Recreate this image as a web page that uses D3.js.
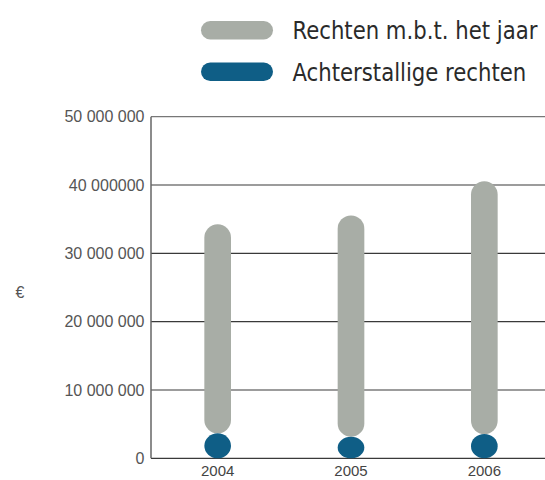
<!DOCTYPE html>
<html><head><meta charset="utf-8">
<script src="https://cdn.jsdelivr.net/npm/d3@7"></script>
<style>body{margin:0;background:#fff}svg{display:block}</style>
</head><body>
<svg id="c" width="545" height="480"></svg>
<script>
const years = ["2004", "2005", "2006"];
const rechtenJaar = [30.6e6, 32.4e6, 37.0e6];
const achterstallig = [3.65e6, 3.15e6, 3.55e6];
const tickValues = [0, 10e6, 20e6, 30e6, 40e6, 50e6];
const tickLabels = ["0", "10 000 000", "20 000 000", "30 000 000", "40 000000", "50 000 000"];
const seriesNames = ["Rechten m.b.t. het jaar", "Achterstallige rechten"];
const colors = ["#a8ada6", "#0f5e86"];

(function(){
const svg = d3.select("#c");
const pLeft = 151, pRight = 545, pTop = 116.7, pBottom = 458.3;
const y = d3.scaleLinear().domain([0, 50e6]).range([pBottom, pTop]);
const x = d3.scaleBand().domain(years).range([151, 551]).paddingInner(0.8).paddingOuter(0.4);

svg.append("g").selectAll("line").data(tickValues).join("line")
  .attr("x1", pLeft).attr("x2", pRight)
  .attr("y1", d => y(d)).attr("y2", d => y(d))
  .attr("stroke", (d,i) => i === tickValues.length-1 ? "#777" : "#3a3a3a")
  .attr("stroke-width", 1.2);
svg.append("line").attr("x1", pLeft).attr("x2", pLeft).attr("y1", y(50e6)).attr("y2", y(0))
  .attr("stroke", "#666").attr("stroke-width", 1.5);

const font = "Liberation Sans, Arial, Helvetica, sans-serif";
svg.append("g").selectAll("text").data(tickValues).join("text")
  .attr("x", 144.5).attr("y", d => y(d)).attr("dy", "0.36em")
  .attr("text-anchor", "end").attr("font-family", font)
  .attr("font-size", 16).attr("fill", "#555")
  .text((d,i) => tickLabels[i]);

svg.append("text").attr("x", 20).attr("y", 292).attr("dy", "0.36em").attr("text-anchor", "middle")
  .attr("font-family", font).attr("font-size", 16).attr("fill", "#555").text("€");

const bw = x.bandwidth();
const g = svg.append("g");
years.forEach((yr, i) => {
  const b0 = achterstallig[i];
  const t = b0 + rechtenJaar[i];
  g.append("rect").attr("x", x(yr)).attr("width", bw)
    .attr("y", y(t)).attr("height", y(b0) - y(t))
    .attr("rx", bw/2).attr("ry", bw/2).attr("fill", colors[0]);
  g.append("rect").attr("x", x(yr)).attr("width", bw)
    .attr("y", y(b0)).attr("height", y(0) - y(b0))
    .attr("rx", bw/2).attr("ry", (y(0) - y(b0))/2).attr("fill", colors[1]);
});

svg.append("g").selectAll("text").data(years).join("text")
  .attr("x", d => x(d) + bw/2).attr("y", 476)
  .attr("text-anchor", "middle").attr("font-family", font)
  .attr("font-size", 15).attr("fill", "#444").text(d => d);

const legendWidths = [245, 234];
const leg = svg.append("g");
seriesNames.forEach((n, i) => {
  const ly = 21 + i * 41.5;
  leg.append("rect").attr("x", 201).attr("y", ly).attr("width", 72).attr("height", 18.5)
    .attr("rx", 9.25).attr("fill", colors[i]);
  const t = leg.append("text").attr("x", 0).attr("y", 0)
    .attr("font-family", "DejaVu Sans Condensed, sans-serif")
    .attr("font-size", 25.5).attr("fill", "#2a2a2a")
    .text(n);
  const w = t.node().getComputedTextLength() || legendWidths[i];
  t.attr("transform", `translate(292.5,${ly + 18}) scale(${legendWidths[i] / w},1)`);
});
})();
</script>
</body></html>
